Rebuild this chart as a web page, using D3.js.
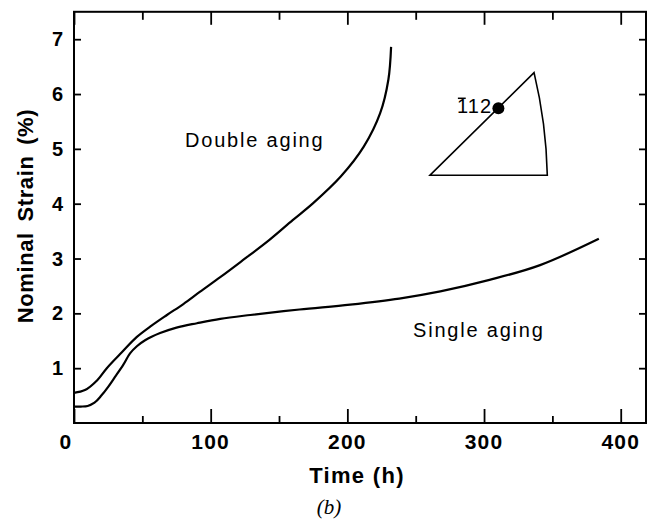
<!DOCTYPE html>
<html><head><meta charset="utf-8">
<script src="https://cdn.jsdelivr.net/npm/d3@7"></script>
<style>
html,body{margin:0;padding:0;background:#fff;}
svg{display:block;}
</style></head>
<body>
<script>
// ---- data ----
const doubleT = [0, 8, 17, 24, 35, 46, 57, 68, 80, 92, 107, 122, 143, 160, 175, 195, 212, 224, 230, 232];
const doubleS = [0.55, 0.60, 0.78, 1.0, 1.29, 1.57, 1.78, 1.97, 2.17, 2.39, 2.66, 2.94, 3.34, 3.70, 4.01, 4.49, 5.04, 5.65, 6.26, 6.86];
const singleT = [0, 5, 10, 15, 20, 25, 30, 36, 41, 46, 52, 63, 75, 90, 107, 129, 165, 202, 238, 268, 304, 341, 384];
const singleS = [0.30, 0.30, 0.31, 0.37, 0.50, 0.66, 0.84, 1.06, 1.27, 1.40, 1.51, 1.64, 1.74, 1.82, 1.90, 1.97, 2.07, 2.16, 2.27, 2.40, 2.61, 2.88, 3.36];
const xMajor = [0, 100, 200, 300, 400];
const xMinor = [50, 150, 250, 350];
const yMajor = [1, 2, 3, 4, 5, 6, 7];
// inset stereographic triangle (in data units)
const insetLeft = [260.5, 4.52];
const insetApex = [336.6, 6.39];
const insetRight = [346.3, 4.52];
const insetArcCtrl = [345.5, 5.46];
const insetPole = [310.5, 5.74];
const poleLabel = ["1", "1", "2"];

(function () {
const W = 655, H = 523;
const svg = d3.select("body").append("svg").attr("width", W).attr("height", H)
  .style("background", "#fff");

const x = d3.scaleLinear().domain([0, 418.5]).range([74, 646]);
const y = d3.scaleLinear().domain([0, 7.5]).range([423, 11.8]);

const ink = "#000";

// frame
svg.append("rect").attr("x", x(0)).attr("y", y(7.5))
  .attr("width", x(418.5) - x(0)).attr("height", y(0) - y(7.5))
  .attr("fill", "none").attr("stroke", ink).attr("stroke-width", 2);

function addAxis(axis, tx, ty) {
  const g = svg.append("g").attr("transform", `translate(${tx},${ty})`).call(axis);
  g.select(".domain").remove();
  return g;
}
addAxis(d3.axisBottom(x).tickValues(xMajor).tickSizeInner(-14).tickSizeOuter(0).tickFormat(""), 0, y(0));
addAxis(d3.axisBottom(x).tickValues(xMinor).tickSizeInner(-7).tickSizeOuter(0).tickFormat(""), 0, y(0));
addAxis(d3.axisTop(x).tickValues(xMajor).tickSizeInner(-13).tickSizeOuter(0).tickFormat(""), 0, y(7.5));
addAxis(d3.axisTop(x).tickValues(xMinor).tickSizeInner(-8).tickSizeOuter(0).tickFormat(""), 0, y(7.5));
addAxis(d3.axisLeft(y).tickValues(yMajor).tickSizeInner(-7).tickSizeOuter(0).tickFormat(""), x(0), 0);
addAxis(d3.axisRight(y).tickValues(yMajor).tickSizeInner(-7).tickSizeOuter(0).tickFormat(""), x(418.5), 0);
svg.selectAll(".tick line").attr("stroke", ink).attr("stroke-width", 1.8);

// tick labels
const fontSans = "'Liberation Sans', Arial, Helvetica, sans-serif";
svg.append("g").selectAll("text").data(xMajor).join("text")
  .attr("x", d => x(d) + (d === 0 ? -8 : 0)).attr("y", 449)
  .attr("text-anchor", "middle").attr("font-family", fontSans)
  .attr("font-size", 21).attr("font-weight", "bold").attr("letter-spacing", 1.2)
  .attr("fill", ink).text(d => d);
svg.append("g").selectAll("text").data(yMajor).join("text")
  .attr("x", 63).attr("y", d => y(d) + 7)
  .attr("text-anchor", "end").attr("font-family", fontSans)
  .attr("font-size", 20).attr("font-weight", "bold")
  .attr("fill", ink).text(d => d);

// axis titles
svg.append("text").attr("x", 357).attr("y", 483).attr("text-anchor", "middle")
  .attr("font-family", fontSans).attr("font-size", 22).attr("font-weight", "bold")
  .attr("letter-spacing", 1.3).attr("fill", ink).text("Time (h)");
svg.append("text").attr("transform", "translate(33,216) rotate(-90)")
  .attr("text-anchor", "middle").attr("font-family", fontSans)
  .attr("font-size", 22).attr("font-weight", "bold").attr("letter-spacing", 0.6)
  .attr("word-spacing", 4).attr("fill", ink)
  .text("Nominal Strain (%)");
svg.append("text").attr("x", 329).attr("y", 514).attr("text-anchor", "middle")
  .attr("font-family", "'Liberation Serif', 'Times New Roman', serif")
  .attr("font-size", 21).attr("font-style", "italic").attr("fill", ink).text("(b)");

// curves
const line = d3.line().x(d => x(d[0])).y(d => y(d[1])).curve(d3.curveCatmullRom.alpha(0.5));
const dbl = doubleT.map((t, i) => [t, doubleS[i]]);
const sgl = singleT.map((t, i) => [t, singleS[i]]);
[dbl, sgl].forEach(pts => {
  svg.append("path").attr("d", line(pts)).attr("fill", "none")
    .attr("stroke", ink).attr("stroke-width", 2.2).attr("stroke-linejoin", "round");
});

// curve labels
svg.append("text").attr("x", 185).attr("y", 147).attr("font-family", fontSans)
  .attr("font-size", 20).attr("letter-spacing", 1.8).attr("fill", ink).text("Double aging");
svg.append("text").attr("x", 413).attr("y", 337).attr("font-family", fontSans)
  .attr("font-size", 20).attr("letter-spacing", 1.8).attr("fill", ink).text("Single aging");

// inset triangle
const p = d => [x(d[0]), y(d[1])];
const [lx, ly] = p(insetLeft), [ax, ay] = p(insetApex), [rx, ry] = p(insetRight), [cx, cy] = p(insetArcCtrl);
svg.append("path")
  .attr("d", `M${lx},${ly}L${ax},${ay}Q${cx},${cy} ${rx},${ry}Z`)
  .attr("fill", "none").attr("stroke", ink).attr("stroke-width", 1.6).attr("stroke-linejoin", "miter");
const [px, py] = p(insetPole);
svg.append("circle").attr("cx", px).attr("cy", py).attr("r", 6).attr("fill", ink);
const lbl = svg.append("text").attr("x", px - 6).attr("y", py + 5).attr("text-anchor", "end")
  .attr("font-family", fontSans).attr("font-size", 20).attr("letter-spacing", 1.2).attr("fill", ink)
  .text(poleLabel.join(""));
const ext = lbl.node().getExtentOfChar(0);
svg.append("line").attr("x1", ext.x + 1).attr("x2", ext.x + ext.width - 2)
  .attr("y1", ext.y + 3).attr("y2", ext.y + 3).attr("stroke", ink).attr("stroke-width", 1.5);
})();
</script>
</body></html>
